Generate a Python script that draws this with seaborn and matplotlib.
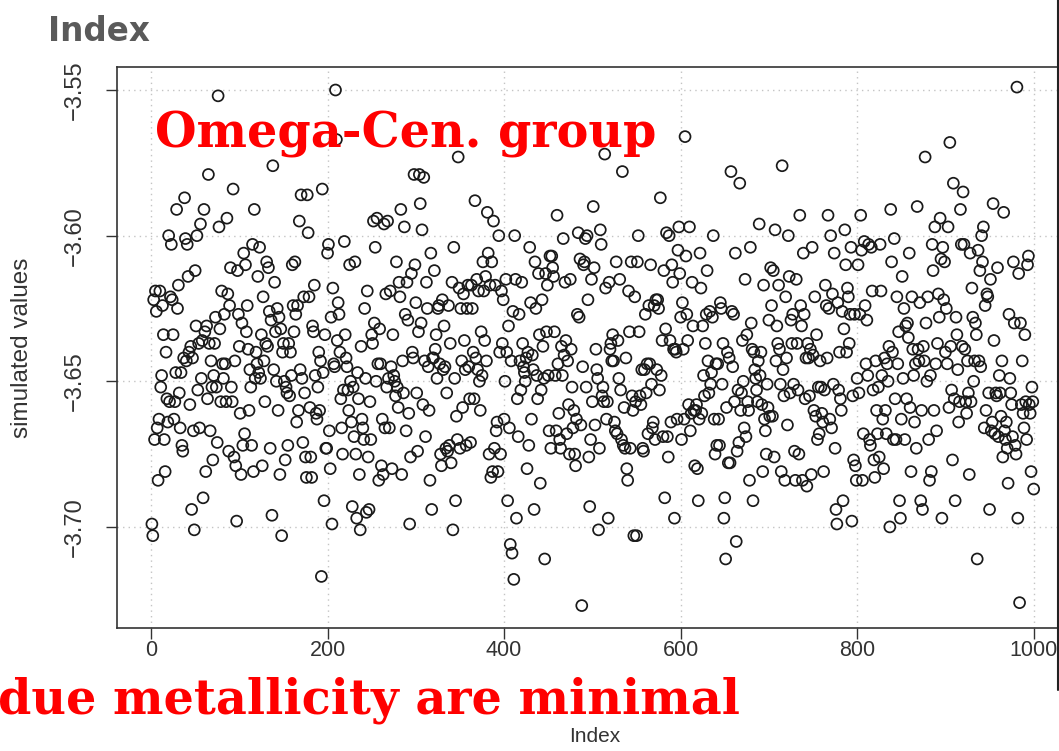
import numpy as np
import pandas as pd
import matplotlib
matplotlib.use("Agg")
import matplotlib.pyplot as plt
import seaborn as sns
from matplotlib.lines import Line2D

# ---- data: simulated values in index order ----
seg_01 = [-3.699, -3.703, -3.622, -3.670, -3.619, -3.626, -3.666, -3.684, -3.663, -3.619,
          -3.652, -3.648, -3.624, -3.634, -3.670, -3.681, -3.640, -3.656, -3.664, -3.600,
          -3.657, -3.621, -3.603, -3.622, -3.634, -3.663, -3.657, -3.647, -3.591, -3.625,
          -3.617, -3.654, -3.666, -3.647, -3.672, -3.674, -3.642, -3.587, -3.601, -3.643,
          -3.603, -3.614, -3.640, -3.658, -3.638, -3.694, -3.642, -3.667, -3.701, -3.612,
          -3.631, -3.600, -3.653, -3.637, -3.666, -3.596, -3.649, -3.636, -3.690, -3.591,
          -3.633, -3.681, -3.631, -3.656, -3.579, -3.637, -3.667, -3.643, -3.652, -3.677,
          -3.648, -3.637, -3.628, -3.652, -3.671, -3.552, -3.597, -3.632, -3.657, -3.619,
          -3.644]
seg_02 = [-3.649, -3.627, -3.644, -3.657, -3.594, -3.620, -3.674, -3.624, -3.611, -3.652,
          -3.657, -3.584, -3.676, -3.643, -3.679, -3.698, -3.612, -3.627, -3.638, -3.661,
          -3.682, -3.630, -3.672, -3.606, -3.668, -3.610, -3.633, -3.624, -3.639, -3.660,
          -3.646, -3.652, -3.672, -3.603, -3.681, -3.591, -3.649, -3.640, -3.644, -3.614,
          -3.647, -3.604, -3.649, -3.634, -3.679, -3.621, -3.643, -3.657, -3.637, -3.609,
          -3.638, -3.611, -3.626, -3.673, -3.629, -3.696, -3.576, -3.646, -3.616, -3.633,
          -3.650, -3.625, -3.660, -3.628, -3.682, -3.632, -3.703, -3.640, -3.637, -3.650,
          -3.677, -3.652, -3.654, -3.672, -3.637, -3.655, -3.640, -3.648, -3.610, -3.624,
          -3.633, -3.609, -3.627, -3.664, -3.624, -3.660, -3.595, -3.646, -3.586, -3.649,
          -3.671, -3.621, -3.654, -3.676, -3.683]
seg_03 = [-3.586, -3.599, -3.621, -3.659, -3.676, -3.683, -3.631, -3.633, -3.617, -3.648,
          -3.661, -3.663, -3.652, -3.640, -3.660, -3.643, -3.717, -3.584, -3.647, -3.691,
          -3.634, -3.673, -3.673, -3.606, -3.603, -3.667, -3.680, -3.628, -3.699, -3.618,
          -3.644, -3.645, -3.550, -3.567, -3.636, -3.623, -3.627, -3.640, -3.656, -3.666,
          -3.675, -3.653, -3.602, -3.634, -3.642, -3.645, -3.653, -3.660, -3.610, -3.650,
          -3.664, -3.693, -3.652, -3.669, -3.609, -3.675, -3.697, -3.647, -3.656, -3.682,
          -3.701, -3.638, -3.663, -3.666, -3.670, -3.625, -3.649, -3.695, -3.619, -3.676,
          -3.694, -3.657, -3.670, -3.634, -3.637, -3.595, -3.630, -3.604, -3.650, -3.594,
          -3.644, -3.684, -3.632, -3.644, -3.679, -3.663, -3.682, -3.596, -3.666, -3.620,
          -3.652]
seg_04 = [-3.595, -3.649, -3.666, -3.619, -3.645, -3.680, -3.634, -3.648, -3.650, -3.655,
          -3.609, -3.652, -3.659, -3.616, -3.621, -3.591, -3.682, -3.643, -3.654, -3.597,
          -3.627, -3.667, -3.616, -3.629, -3.661, -3.699, -3.676, -3.613, -3.640, -3.642,
          -3.579, -3.610, -3.623, -3.654, -3.674, -3.633, -3.579, -3.589, -3.630, -3.598,
          -3.658, -3.580, -3.643, -3.669, -3.616, -3.625, -3.645, -3.660, -3.684, -3.606,
          -3.694, -3.642, -3.642, -3.612, -3.639, -3.634, -3.649, -3.625, -3.624, -3.644,
          -3.675, -3.679, -3.622, -3.646, -3.631, -3.645, -3.673, -3.654, -3.674, -3.624,
          -3.672, -3.637, -3.678, -3.616, -3.701, -3.604, -3.649, -3.691, -3.662, -3.670,
          -3.573, -3.618, -3.673, -3.625, -3.643, -3.659, -3.620, -3.636, -3.646, -3.672,
          -3.625, -3.617, -3.645, -3.656]
seg_05 = [-3.671, -3.617, -3.625, -3.640, -3.656, -3.588, -3.642, -3.615, -3.646, -3.619,
          -3.650, -3.660, -3.633, -3.648, -3.609, -3.619, -3.636, -3.614, -3.643, -3.592,
          -3.606, -3.675, -3.617, -3.683, -3.609, -3.681, -3.595, -3.673, -3.617, -3.667,
          -3.664, -3.681, -3.600, -3.640, -3.675, -3.619, -3.637, -3.622, -3.663, -3.650,
          -3.615, -3.640, -3.691, -3.631, -3.666, -3.706, -3.643, -3.709, -3.626, -3.718,
          -3.600, -3.615, -3.697, -3.656, -3.669, -3.627, -3.643, -3.653, -3.616, -3.637,
          -3.645, -3.647, -3.650, -3.642, -3.680, -3.640, -3.672, -3.604, -3.623, -3.663,
          -3.641, -3.646, -3.694, -3.609, -3.625, -3.648, -3.656, -3.613, -3.634, -3.685,
          -3.653, -3.622, -3.638, -3.649, -3.711, -3.613, -3.633, -3.617, -3.648, -3.667,
          -3.607, -3.673]
seg_06 = [-3.607, -3.611, -3.614, -3.633, -3.648, -3.667, -3.593, -3.644, -3.661, -3.670,
          -3.673, -3.638, -3.648, -3.601, -3.641, -3.616, -3.636, -3.668, -3.643, -3.658,
          -3.675, -3.615, -3.639, -3.652, -3.666, -3.660, -3.675, -3.679, -3.663, -3.627,
          -3.599, -3.628, -3.608, -3.665, -3.727, -3.645, -3.610, -3.609, -3.601, -3.652,
          -3.600, -3.622, -3.676, -3.693, -3.670, -3.615, -3.657, -3.590, -3.611, -3.665,
          -3.639, -3.646, -3.649, -3.701, -3.673, -3.598, -3.603, -3.655, -3.652, -3.657,
          -3.572, -3.618, -3.663, -3.657, -3.697, -3.616, -3.639, -3.637, -3.643, -3.634,
          -3.643, -3.664, -3.667, -3.609, -3.668, -3.636, -3.649, -3.615, -3.653, -3.670,
          -3.578, -3.672, -3.659, -3.673, -3.642, -3.680, -3.684, -3.619, -3.633, -3.673,
          -3.609, -3.655, -3.660, -3.703]
seg_07 = [-3.621, -3.657, -3.703, -3.609, -3.600, -3.633, -3.655, -3.658, -3.646, -3.673,
          -3.674, -3.646, -3.627, -3.654, -3.644, -3.668, -3.624, -3.644, -3.610, -3.651,
          -3.666, -3.664, -3.624, -3.670, -3.622, -3.646, -3.622, -3.625, -3.653, -3.587,
          -3.648, -3.636, -3.669, -3.612, -3.690, -3.632, -3.599, -3.669, -3.676, -3.600,
          -3.636, -3.664, -3.610, -3.616, -3.639, -3.697, -3.639, -3.640, -3.663, -3.605,
          -3.597, -3.613, -3.628, -3.670, -3.623, -3.639, -3.663, -3.566, -3.607, -3.627,
          -3.636, -3.658, -3.597, -3.667, -3.661, -3.616, -3.631, -3.660, -3.679, -3.660,
          -3.658, -3.680, -3.691, -3.663, -3.606, -3.618, -3.661, -3.631, -3.648, -3.655,
          -3.637, -3.627, -3.612, -3.643, -3.654, -3.626, -3.651, -3.647, -3.628, -3.600,
          -3.663, -3.675, -3.644, -3.672]
seg_08 = [-3.644, -3.663, -3.672, -3.623, -3.625, -3.651, -3.637, -3.697, -3.690, -3.711,
          -3.659, -3.640, -3.678, -3.642, -3.678, -3.578, -3.626, -3.645, -3.627, -3.657,
          -3.606, -3.705, -3.674, -3.653, -3.671, -3.582, -3.660, -3.654, -3.636, -3.650,
          -3.666, -3.615, -3.669, -3.634, -3.657, -3.660, -3.684, -3.604, -3.630, -3.639,
          -3.691, -3.640, -3.646, -3.649, -3.653, -3.657, -3.643, -3.596, -3.648, -3.640,
          -3.658, -3.681, -3.617, -3.663, -3.667, -3.675, -3.651, -3.659, -3.629, -3.662,
          -3.611, -3.624, -3.662, -3.612, -3.676, -3.598, -3.643, -3.631, -3.637, -3.617,
          -3.639, -3.651, -3.681, -3.576, -3.646, -3.655, -3.684, -3.621, -3.642, -3.665,
          -3.600, -3.614, -3.654, -3.629, -3.637, -3.627, -3.651, -3.674, -3.684]
seg_09 = [-3.615, -3.637, -3.653, -3.675, -3.593, -3.624, -3.631, -3.684, -3.606, -3.627,
          -3.656, -3.642, -3.686, -3.637, -3.642, -3.655, -3.639, -3.682, -3.604, -3.641,
          -3.660, -3.621, -3.662, -3.634, -3.670, -3.652, -3.668, -3.643, -3.652, -3.661,
          -3.664, -3.681, -3.653, -3.617, -3.624, -3.642, -3.593, -3.625, -3.663, -3.600,
          -3.666, -3.620, -3.651, -3.606, -3.673, -3.694, -3.699, -3.623, -3.653, -3.640,
          -3.656, -3.660, -3.626, -3.691, -3.632, -3.598, -3.610, -3.640, -3.618, -3.621,
          -3.637, -3.627, -3.604, -3.698, -3.655, -3.677, -3.627, -3.679, -3.684, -3.649,
          -3.610, -3.654, -3.627, -3.593, -3.605, -3.684, -3.668, -3.602, -3.624, -3.644,
          -3.629, -3.648, -3.603, -3.670, -3.672, -3.604, -3.619, -3.653, -3.677, -3.683,
          -3.643, -3.660, -3.668]
seg_10 = [-3.652, -3.676, -3.603, -3.619, -3.648, -3.663, -3.680, -3.642, -3.660, -3.668,
          -3.644, -3.650, -3.638, -3.700, -3.591, -3.609, -3.640, -3.670, -3.601, -3.656,
          -3.670, -3.621, -3.644, -3.633, -3.691, -3.697, -3.663, -3.614, -3.649, -3.625,
          -3.670, -3.631, -3.656, -3.630, -3.635, -3.606, -3.659, -3.681, -3.621, -3.639,
          -3.648, -3.664, -3.644, -3.673, -3.590, -3.639, -3.643, -3.623, -3.691, -3.660,
          -3.694, -3.638, -3.643, -3.573, -3.630, -3.650, -3.621, -3.670, -3.684, -3.648,
          -3.681, -3.603, -3.612, -3.660, -3.597, -3.644, -3.667, -3.637, -3.620, -3.628,
          -3.594, -3.608, -3.697, -3.604, -3.622, -3.609, -3.640, -3.625, -3.644, -3.597,
          -3.659, -3.568, -3.638, -3.653, -3.677, -3.582, -3.656, -3.691, -3.628, -3.634,
          -3.646, -3.664, -3.657, -3.591, -3.603, -3.638]
seg_11 = [-3.585, -3.603, -3.639, -3.657, -3.661, -3.643, -3.654, -3.682, -3.606, -3.657,
          -3.618, -3.628, -3.650, -3.643, -3.630, -3.634, -3.711, -3.605, -3.643, -3.612,
          -3.645, -3.600, -3.609, -3.597, -3.666, -3.624, -3.660, -3.620, -3.621, -3.654,
          -3.694, -3.615, -3.667, -3.664, -3.589, -3.636, -3.668, -3.654, -3.655, -3.611,
          -3.669, -3.648, -3.654, -3.662, -3.643, -3.676, -3.592, -3.667, -3.670, -3.664,
          -3.673, -3.685, -3.627, -3.649, -3.654, -3.658, -3.669, -3.609, -3.630, -3.672,
          -3.675, -3.549, -3.697, -3.613, -3.726, -3.630, -3.658, -3.643, -3.661, -3.666,
          -3.634, -3.657, -3.670, -3.610, -3.607, -3.658, -3.661, -3.681, -3.652, -3.657,
          -3.687]

simulated_values = np.array(seg_01 + seg_02 + seg_03 + seg_04 + seg_05 + seg_06 +
                            seg_07 + seg_08 + seg_09 + seg_10 + seg_11)
index = np.arange(1, len(simulated_values) + 1)

x_ticks = [0, 200, 400, 600, 800, 1000]
y_ticks = [-3.70, -3.65, -3.60, -3.55]
title_text = "Index"
x_label = "Index"
y_label = "simulated values"
annot_top = "Omega-Cen. group"
annot_bottom = "due metallicity are minimal"

# ---- figure ----
W, H = 1059, 751
sns.set_theme(style="white")
plt.rcParams['font.family'] = ['Liberation Sans', 'DejaVu Sans']
plt.rcParams['axes.unicode_minus'] = True

fig = plt.figure(figsize=(W / 100, H / 100), dpi=100)
fig.patch.set_facecolor("white")
ax_l, ax_r, ax_t, ax_b = 116.6, 1069.0, 67.0, 628.0
ax = fig.add_axes([ax_l / W, 1 - ax_b / H, (ax_r - ax_l) / W, (ax_b - ax_t) / H])
ax.set_facecolor("white")

df = pd.DataFrame({"Index": index, "simulated values": simulated_values})
sns.scatterplot(data=df, x="Index", y="simulated values", ax=ax, marker="o",
                s=62, facecolor="none", edgecolor="#1a1a1a", linewidth=1.25,
                legend=False, zorder=3)

ax.set_xlim(-39, 1040)
ax.set_ylim(-3.7347, -3.5421)
ax.set_xticks(x_ticks)
ax.set_xticklabels([str(t) for t in x_ticks])
ax.set_yticks(y_ticks)
ax.set_yticklabels([f"{t:.2f}".replace("-", "\u2212") for t in y_ticks])
for lbl in ax.get_yticklabels():
    lbl.set_rotation(90)
    lbl.set_va("center")

ax.set_axisbelow(True)
ax.grid(True, linestyle=(0, (1, 3)), color="#c4c4c4", linewidth=1.0)
for sp in ax.spines.values():
    sp.set_visible(True)
    sp.set_color("#333333")
    sp.set_linewidth(1.2)

ax.tick_params(axis="both", which="major", direction="out", length=8, width=1.0,
               color="#333333", labelcolor="#333333", bottom=True, left=True)
ax.tick_params(axis="x", labelsize=15.5, pad=1)
ax.tick_params(axis="y", labelsize=17, pad=14)

ax.set_xlabel(x_label, fontsize=15, color="#333333")
ax.set_ylabel(y_label, fontsize=17.5, color="#333333")
ax.xaxis.set_label_coords((595 - ax_l) / (ax_r - ax_l), (ax_b - 737) / (ax_b - ax_t))
ax.xaxis.label.set_va("center")
ax.yaxis.set_label_coords((22 - ax_l) / (ax_r - ax_l), (ax_b - 348) / (ax_b - ax_t))
ax.yaxis.label.set_va("center")

fig.text(48 / W, 1 - 41 / H, title_text, ha="left", va="baseline",
         fontsize=23.5, color="#5a5a5a", fontweight="bold", family=["DejaVu Sans"])

fig.text(155 / W, 1 - 147 / H, annot_top, ha="left", va="baseline",
         fontsize=34.4, color="#ff0000", fontweight="bold", family=["DejaVu Serif"])
fig.text(740 / W, 1 - 713 / H, annot_bottom, ha="right", va="baseline",
         fontsize=34.4, color="#ff0000", fontweight="bold", family=["DejaVu Serif"])

fig.add_artist(Line2D([1057.5 / W, 1057.5 / W], [1.0, 1 - 690 / H],
                      color="#222222", linewidth=1.5))

fig.savefig("out.png", dpi=100, facecolor="white")
